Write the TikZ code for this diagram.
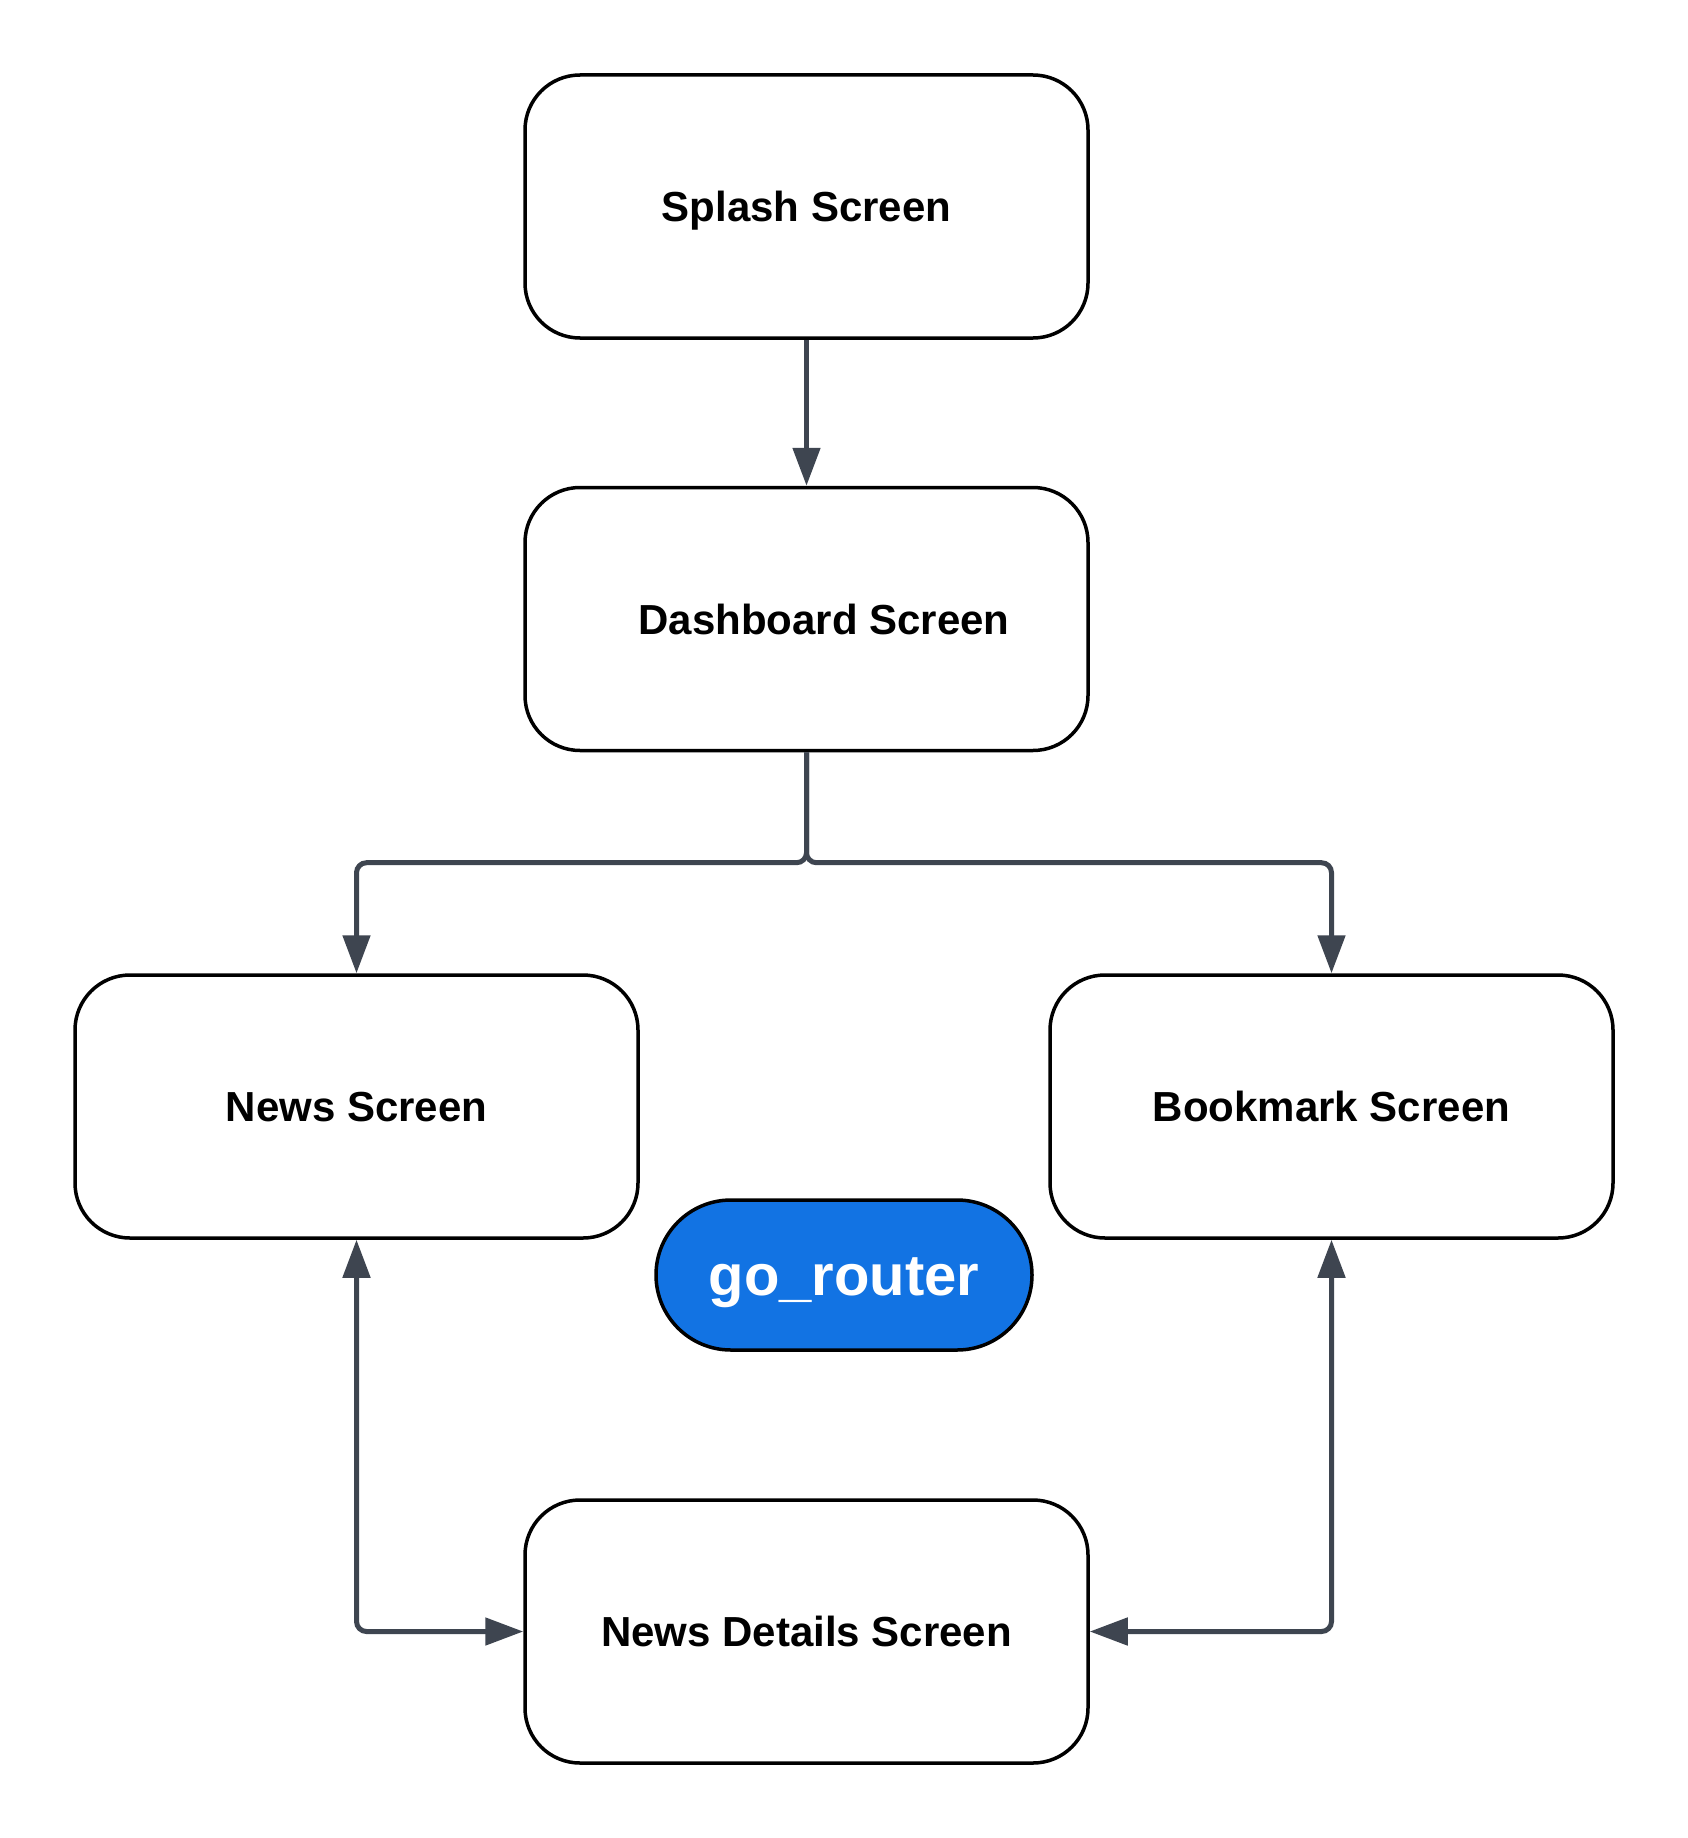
\documentclass[tikz,border=0pt]{standalone}
\usepackage{fontspec}
\setmainfont{Liberation Sans}
\usetikzlibrary{arrows.meta}
\definecolor{arrowgray}{HTML}{3E4550}
\definecolor{routerblue}{HTML}{1273E3}
\begin{document}
\begin{tikzpicture}[x=1pt,y=-1pt,
  screenbox/.style={draw=black, line width=3.5pt, rounded corners=55pt, fill=white,
    minimum width=563pt, minimum height=263pt, inner sep=0pt,
    text height=30pt, text depth=0pt,
    font=\fontsize{42}{50}\selectfont\bfseries},
  routerbox/.style={draw=black, line width=3.5pt, rounded corners=75pt, fill=routerblue,
    minimum width=376pt, minimum height=150pt, inner sep=0pt, text=white,
    text height=41pt, text depth=0pt,
    font=\fontsize{58}{66}\selectfont\bfseries},
  conn/.style={draw=arrowgray, line width=5pt, rounded corners=10pt,
    -{Triangle[length=38pt,width=27pt]}},
  bconn/.style={draw=arrowgray, line width=5pt, rounded corners=10pt,
    {Triangle[length=38pt,width=27pt]}-{Triangle[length=38pt,width=27pt]}}
]
\useasboundingbox (0,0) rectangle (1688,1838);
\fill[white] (0,0) rectangle (1688,1838);

\node[screenbox] (splash) at (806.5,206.5) {Splash Screen};
\node[screenbox] (dash) at (806.5,619) {};
\node[font=\fontsize{42}{50}\selectfont\bfseries, text height=30pt, text depth=0pt, inner sep=0pt] (dashlabel) at (824,619) {Dashboard Screen};
\node[screenbox] (news) at (356.5,1106.5) {News Screen};
\node[screenbox] (book) at (1331.5,1106.5) {Bookmark Screen};
\node[screenbox] (details) at (806.5,1631.5) {News Details Screen};
\node[routerbox] (router) at (844,1275) {go\_router};

\coordinate (j) at (806.5,862.7);

\draw[conn] (splash.south) -- (dash.north);
\draw[conn] (dash.south) -- (j) -| (news.north);
\draw[conn] (dash.south) -- (j) -| (book.north);
\draw[bconn] (news.south) |- (details.west);
\draw[bconn] (book.south) |- (details.east);
\end{tikzpicture}
\end{document}
